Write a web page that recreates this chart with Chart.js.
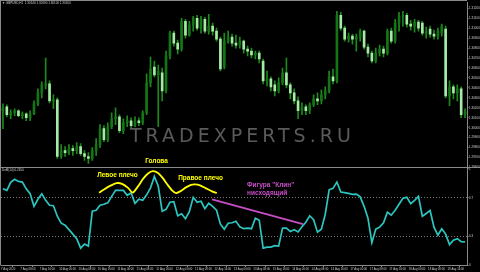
<!DOCTYPE html>
<html><head><meta charset="utf-8">
<script src="https://cdn.jsdelivr.net/npm/chart.js@4.4.1/dist/chart.umd.min.js"></script>
<style>html,body{margin:0;padding:0;background:#000;overflow:hidden}#w{width:480px;height:272px}</style>
</head><body><div id="w"><canvas id="c" width="480" height="272"></canvas></div>
<script>
const symbolTitle = 'GBPUSD,H1';
const oscName = 'DeM(14)';
const watermark = 'TRADEXPERTS.RU';
const timeLabels = ['7 Aug 2020','7 Aug 08:00','7 Aug 16:00','10 Aug 00:00','10 Aug 08:00','10 Aug 16:00','11 Aug 00:00','11 Aug 08:00','11 Aug 16:00','12 Aug 00:00','12 Aug 08:00','12 Aug 16:00','13 Aug 00:00','13 Aug 08:00','13 Aug 16:00','14 Aug 00:00','14 Aug 08:00','14 Aug 16:00','17 Aug 00:00','17 Aug 08:00','17 Aug 16:00','18 Aug 00:00','18 Aug 08:00','18 Aug 16:00'];
const barsPerLabel = 5;
const opens = [1.3017,1.3021,1.3013,1.3015,1.3017,1.3012,1.3014,1.3010,1.3014,1.3024,
1.3035,1.3043,1.3044,1.3027,1.3028,1.2971,1.2977,1.2975,1.2979,1.2977,
1.2981,1.2974,1.2971,1.2969,1.2977,1.2983,1.2999,1.2988,1.3001,1.3009,
1.3011,1.2997,1.3005,1.3007,1.3002,1.3007,1.3005,1.3015,1.3045,1.3061,
1.3053,1.3055,1.3037,1.3072,1.3095,1.3085,1.3079,1.3107,1.3093,1.3103,
1.3110,1.3100,1.3109,1.3097,1.3102,1.3097,1.3089,1.3061,1.3087,1.3091,
1.3085,1.3083,1.3087,1.3079,1.3077,1.3073,1.3075,1.3067,1.3047,1.3049,
1.3043,1.3037,1.3045,1.3055,1.3043,1.3035,1.3027,1.3017,1.3021,1.3017,
1.3023,1.3029,1.3027,1.3033,1.3037,1.3051,1.3047,1.3113,1.3100,1.3089,
1.3092,1.3089,1.3091,1.3097,1.3081,1.3075,1.3067,1.3075,1.3079,1.3075,
1.3097,1.3087,1.3105,1.3112,1.3113,1.3104,1.3102,1.3106,1.3105,1.3095,
1.3099,1.3094,1.3092,1.3095,1.3099,1.3032,1.3041,1.3035,1.3039,1.3014];
const highs = [1.3024,1.3023,1.3018,1.3019,1.3018,1.3016,1.3015,1.3017,1.3027,1.3039,
1.3046,1.3070,1.3047,1.3033,1.3030,1.2983,1.2981,1.2983,1.2982,1.2985,
1.2984,1.2977,1.2975,1.2980,1.2989,1.3003,1.3002,1.3005,1.3015,1.3020,
1.3013,1.3009,1.3012,1.3010,1.3011,1.3010,1.3017,1.3054,1.3071,1.3067,
1.3063,1.3060,1.3077,1.3097,1.3097,1.3088,1.3110,1.3109,1.3107,1.3112,
1.3113,1.3112,1.3111,1.3114,1.3105,1.3100,1.3091,1.3095,1.3097,1.3094,
1.3093,1.3091,1.3088,1.3082,1.3080,1.3077,1.3077,1.3069,1.3057,1.3051,
1.3047,1.3050,1.3060,1.3070,1.3045,1.3039,1.3031,1.3025,1.3023,1.3025,
1.3033,1.3035,1.3038,1.3041,1.3057,1.3059,1.3117,1.3116,1.3102,1.3095,
1.3094,1.3094,1.3099,1.3098,1.3084,1.3077,1.3080,1.3083,1.3082,1.3099,
1.3100,1.3109,1.3116,1.3117,1.3115,1.3108,1.3109,1.3108,1.3107,1.3101,
1.3102,1.3098,1.3100,1.3104,1.3102,1.3047,1.3043,1.3043,1.3041,1.3019];
const lows = [1.2999,1.3011,1.3009,1.3012,1.3011,1.3009,1.3007,1.3007,1.3013,1.3022,
1.3030,1.3039,1.3025,1.3019,1.2969,1.2969,1.2971,1.2973,1.2972,1.2974,
1.2972,1.2967,1.2964,1.2967,1.2972,1.2980,1.2986,1.2986,1.2999,1.3003,
1.2995,1.2994,1.3001,1.3000,1.3001,1.3002,1.3003,1.3013,1.3041,1.3051,
1.3001,1.3027,1.3035,1.3069,1.3082,1.3074,1.3077,1.3090,1.3092,1.3097,
1.3098,1.3095,1.3095,1.3094,1.3093,1.3087,1.3057,1.3059,1.3085,1.3082,
1.3080,1.3080,1.3075,1.3072,1.3070,1.3069,1.3065,1.3044,1.3042,1.3037,
1.3032,1.3035,1.3043,1.3040,1.3029,1.3024,1.3009,1.3013,1.3013,1.3014,
1.3021,1.3023,1.3024,1.3029,1.3035,1.3044,1.3045,1.3098,1.3087,1.3086,
1.3084,1.3077,1.3087,1.3079,1.3071,1.3065,1.3065,1.3072,1.3071,1.3073,
1.3085,1.3085,1.3097,1.3102,1.3101,1.3098,1.3096,1.3097,1.3093,1.3090,
1.3091,1.3089,1.3089,1.3092,1.3030,1.3022,1.3029,1.3027,1.3010,1.3010];
const closes = [1.3020,1.3013,1.3015,1.3017,1.3012,1.3014,1.3010,1.3014,1.3024,1.3035,
1.3043,1.3044,1.3027,1.3028,1.2971,1.2977,1.2975,1.2979,1.2977,1.2981,
1.2974,1.2971,1.2969,1.2977,1.2983,1.2999,1.2988,1.3001,1.3009,1.3011,
1.2997,1.3005,1.3007,1.3002,1.3007,1.3005,1.3015,1.3045,1.3059,1.3053,
1.3057,1.3037,1.3072,1.3095,1.3085,1.3079,1.3107,1.3093,1.3103,1.3110,
1.3100,1.3109,1.3097,1.3102,1.3097,1.3089,1.3059,1.3087,1.3091,1.3085,
1.3083,1.3087,1.3079,1.3077,1.3073,1.3075,1.3069,1.3047,1.3049,1.3041,
1.3037,1.3045,1.3055,1.3043,1.3035,1.3027,1.3017,1.3021,1.3017,1.3023,
1.3029,1.3027,1.3033,1.3037,1.3051,1.3047,1.3113,1.3100,1.3089,1.3092,
1.3089,1.3091,1.3097,1.3081,1.3075,1.3067,1.3075,1.3079,1.3075,1.3097,
1.3087,1.3105,1.3112,1.3113,1.3104,1.3102,1.3106,1.3100,1.3095,1.3097,
1.3094,1.3092,1.3097,1.3102,1.3032,1.3041,1.3035,1.3039,1.3013,1.3016];
const demarker = [0.794,0.778,0.861,0.892,0.871,0.864,0.794,0.744,0.613,0.686,
0.742,0.675,0.624,0.619,0.510,0.438,0.418,0.371,0.325,0.278,
0.180,0.222,0.201,0.562,0.572,0.624,0.634,0.649,0.716,0.778,
0.778,0.778,0.727,0.753,0.644,0.686,0.675,0.732,0.804,0.923,
0.820,0.562,0.582,0.655,0.660,0.515,0.536,0.485,0.557,0.706,
0.655,0.665,0.588,0.644,0.613,0.572,0.428,0.376,0.438,0.443,
0.459,0.400,0.381,0.387,0.381,0.490,0.469,0.180,0.191,0.191,
0.206,0.201,0.387,0.387,0.351,0.371,0.348,0.402,0.448,0.515,
0.474,0.345,0.376,0.531,0.784,0.799,0.864,0.761,0.755,0.747,
0.737,0.740,0.711,0.613,0.490,0.237,0.376,0.397,0.443,0.552,
0.521,0.572,0.634,0.696,0.706,0.641,0.675,0.716,0.510,0.538,
0.569,0.397,0.314,0.381,0.325,0.216,0.263,0.278,0.247,0.245];
const priceTicks = [1.2960,1.2970,1.2980,1.2990,1.3000,1.3010,1.3020,1.3030,1.3040,1.3050,1.3060,1.3070,1.3080,1.3090,1.3100,1.3110,1.3120];
const priceMin = 1.2960, priceMax = 1.3126;
const oscTicks = [0, 0.3, 0.7, 1];
const oscLevels = [0.3, 0.7];
const oscMin = 0, oscMax = 1.015;
const hsX = [24.74,26.03,27.57,29.30,30.66,32.21,33.42,34.78,36.07,37.36,38.57,39.93,41.22,42.51,43.54,44.57,45.86,47.14,48.43,49.46,50.75,52.29,53.84,55.05];
const hsY = [0.754,0.788,0.824,0.853,0.845,0.804,0.754,0.819,0.897,0.953,0.977,0.958,0.902,0.830,0.778,0.750,0.773,0.809,0.835,0.840,0.830,0.799,0.768,0.750];
const wedgeX = [53.84, 77.27];
const wedgeY = [0.685, 0.428];
const notes = [
  {t:'Левое плечо', x:29.5, y:0.933, axis:'yo', align:'center', kind:'hs'},
  {t:'Голова', x:39.55, y:1.2966, axis:'y', align:'center', kind:'hs'},
  {t:'Правое плечо', x:50.88, y:0.907, axis:'yo', align:'center', kind:'hs'},
  {t:'Фигура "Клин"', x:62.85, y:0.835, axis:'yo', align:'left', kind:'wedge'},
  {t:'нисходящий', x:62.85, y:0.752, axis:'yo', align:'left', kind:'wedge'}
];

const COL = {wick:'#1d8a1d', up:'#137513', down:'#a5eba5', osc:'#2cc5c0', hs:'#ffff00', wedge:'#c64ec6', frame:'#8a8a8a', text:'#cfcfcf'};
const SMALL = '"Liberation Sans", Arial, sans-serif';

const N = closes.length;
const idx = closes.map((_, i) => i);
const fmt = v => v.toFixed(5);
const lastI = N - 1;
const mainTitle = '\u25BC ' + symbolTitle + '  ' + fmt(opens[lastI]) + ' ' + fmt(highs[lastI]) + ' ' + fmt(lows[lastI]) + ' ' + fmt(closes[lastI]);
const oscTitle = oscName + ' ' + demarker[lastI].toFixed(4);

const deco = {
  id: 'deco',
  beforeDatasetsDraw(chart) {
    const ctx = chart.ctx;
    ctx.save();
    ctx.font = '19px "DejaVu Sans", sans-serif';
    try { ctx.letterSpacing = '4px'; } catch (e) {}
    ctx.fillStyle = '#5a5a5a';
    ctx.textBaseline = 'alphabetic';
    ctx.textAlign = 'left';
    ctx.fillText(watermark, 130, 142);
    try { ctx.letterSpacing = '0px'; } catch (e) {}
    ctx.restore();
  },
  afterDraw(chart) {
    const {ctx, chartArea: a, scales} = chart;
    ctx.save();
    ctx.strokeStyle = COL.frame; ctx.lineWidth = 1;
    ctx.beginPath();
    ctx.moveTo(0.5, 0); ctx.lineTo(0.5, a.bottom);
    ctx.moveTo(0, 0.5); ctx.lineTo(a.right, 0.5);
    const sep = Math.round(scales.yo.top) + 0.5;
    ctx.moveTo(0, sep); ctx.lineTo(480, sep);
    ctx.stroke();
    ctx.font = '3px ' + SMALL; ctx.fillStyle = COL.text; ctx.textBaseline = 'middle'; ctx.textAlign = 'left';
    ctx.fillText(mainTitle, 2, 3.5);
    ctx.fillText(oscTitle, 2, sep + 3);
    ctx.font = 'bold 6.5px ' + SMALL;
    for (const n of notes) {
      ctx.fillStyle = n.kind === 'hs' ? COL.hs : COL.wedge;
      ctx.textAlign = n.align;
      ctx.fillText(n.t, scales.x.getPixelForValue(n.x), scales[n.axis].getPixelForValue(n.y));
    }
    ctx.restore();
  }
};

new Chart(document.getElementById('c'), {
  type: 'bar',
  data: {
    datasets: [
      {type:'line', data: hsX.map((x, k) => ({x, y: hsY[k]})), yAxisID:'yo', borderColor: COL.hs, borderWidth: 1.8, pointRadius: 0, tension: 0.2, order: 0},
      {type:'line', data: wedgeX.map((x, k) => ({x, y: wedgeY[k]})), yAxisID:'yo', borderColor: COL.wedge, borderWidth: 1.8, pointRadius: 0, order: 0},
      {type:'line', data: idx.map(i => ({x: i, y: demarker[i]})), yAxisID:'yo', borderColor: COL.osc, borderWidth: 1.7, pointRadius: 0, tension: 0, order: 1},
      {type:'bar', data: idx.map(i => ({x: i, y: [opens[i], closes[i]]})), yAxisID:'y', grouped:false, barThickness: 2, minBarLength: 1,
        backgroundColor: c => closes[c.dataIndex] >= opens[c.dataIndex] ? COL.up : COL.down, borderWidth: 0, order: 2},
      {type:'bar', data: idx.map(i => ({x: i, y: [lows[i], highs[i]]})), yAxisID:'y', grouped:false, barThickness: 1,
        backgroundColor: COL.wick, borderWidth: 0, order: 3}
    ]
  },
  options: {
    responsive: false, animation: false, devicePixelRatio: 1,
    layout: {padding: {left: 1, top: 1, right: 0, bottom: 0}},
    plugins: {legend: {display: false}, tooltip: {enabled: false}},
    scales: {
      x: {
        type: 'linear', position: 'bottom', min: -0.5, max: N - 0.5, offset: false,
        afterBuildTicks: s => { s.ticks = timeLabels.map((_, k) => ({value: k * barsPerLabel})); },
        afterFit: s => { s.height = 6.5; },
        ticks: {callback: v => timeLabels[Math.round(v / barsPerLabel)], autoSkip: false, maxRotation: 0, align: 'start', labelOffset: -2,
          padding: 0.5, color: COL.text, font: {size: 2.8, family: SMALL}},
        grid: {drawOnChartArea: false, drawTicks: true, tickLength: 1.5, tickColor: COL.frame, color: COL.frame},
        border: {display: true, color: COL.frame, width: 1}
      },
      y: {
        type: 'linear', position: 'right', stack: 'panes', stackWeight: 166, min: priceMin, max: priceMax, offset: false,
        afterBuildTicks: s => { s.ticks = priceTicks.map(v => ({value: v})); },
        afterFit: s => { s.width = 13; },
        ticks: {callback: v => v.toFixed(5), autoSkip: false, padding: 0.5, color: COL.text, font: {size: 3, family: SMALL}},
        grid: {drawOnChartArea: false, drawTicks: true, tickLength: 1.5, tickColor: COL.frame, color: COL.frame},
        border: {display: true, color: COL.frame, width: 1}
      },
      yo: {
        type: 'linear', position: 'right', stack: 'panes', stackWeight: 98.5, min: oscMin, max: oscMax, offset: false,
        afterBuildTicks: s => { s.ticks = oscTicks.map(v => ({value: v})); },
        afterFit: s => { s.width = 13; },
        ticks: {callback: v => String(v), autoSkip: false, padding: 0.5, color: COL.text, font: {size: 3, family: SMALL}},
        grid: {drawOnChartArea: true, drawTicks: true, tickLength: 1.5, tickColor: COL.frame, lineWidth: 1,
          color: c => (c.tick && oscLevels.includes(c.tick.value)) ? '#7a7a7a' : 'rgba(0,0,0,0)'},
        border: {display: true, color: COL.frame, width: 1, dash: [1, 2]}
      }
    }
  },
  plugins: [deco]
});
</script>
</body></html>
